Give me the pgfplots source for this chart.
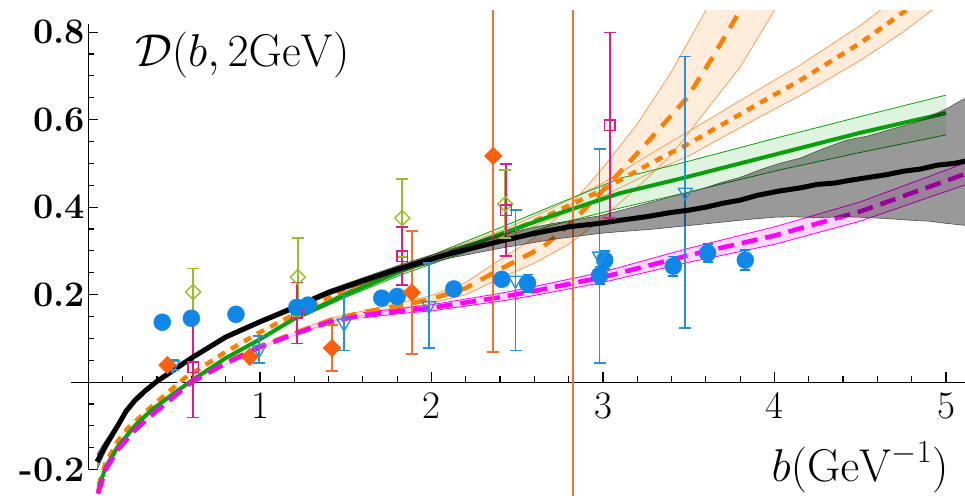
\RequirePackage{fix-cm}
\documentclass[border=0pt]{standalone}
\usepackage{pgfplots}
\pgfplotsset{compat=1.18}
\definecolor{cblue}{RGB}{15,135,232}
\definecolor{tblue}{RGB}{40,145,220}
\definecolor{dorange}{RGB}{255,95,15}
\definecolor{eorange}{RGB}{240,112,45}
\definecolor{dgreen}{RGB}{150,190,40}
\definecolor{sqpink}{RGB}{220,30,140}
\definecolor{mag}{RGB}{255,0,255}
\definecolor{lgr}{RGB}{10,160,10}
\definecolor{lor}{RGB}{255,128,0}
\definecolor{bandor}{RGB}{255,236,218}
\definecolor{bandgr}{RGB}{222,244,222}
\definecolor{bandmg}{RGB}{255,215,255}
\definecolor{edgeor}{RGB}{245,160,90}
\pgfplotsset{
  ebar/.style={line width=1.7pt, unbounded coords=jump},
  ecap/.style={only marks, mark=-, mark size=6pt, mark options={line width=1.7pt}},
}
\begin{document}
\begin{tikzpicture}
% ---------- axes ----------
\begin{axis}[
  x=171.5pt, y=437.5pt, anchor=origin, at={(0pt,0pt)},
  xmin=-0.1, xmax=5.12, ymin=-0.2, ymax=0.818,
  clip=false,
  axis lines=middle,
  every inner x axis line/.append style={-},
  every inner y axis line/.append style={-},
  axis line style={line width=1.2pt, black, -},
  xtick={1,2,3,4,5}, xticklabels={1,2,3,4,5},
  minor xtick={0.2,0.4,0.6,0.8,1.2,1.4,1.6,1.8,2.2,2.4,2.6,2.8,3.2,3.4,3.6,3.8,4.2,4.4,4.6,4.8},
  ytick={-0.2,0.2,0.4,0.6,0.8}, yticklabels={-0.2,0.2,0.4,0.6,0.8},
  minor ytick={-0.15,-0.1,-0.05,0.05,0.1,0.15,0.25,0.3,0.35,0.45,0.5,0.55,0.65,0.7,0.75},
  tick align=inside,
  major tick length=10pt, minor tick length=6pt,
  every tick/.style={black, line width=1.2pt},
  xticklabel style={font=\fontsize{39}{41}\selectfont, yshift=-7pt},
  yticklabel style={font=\fontsize{36}{38}\selectfont\bfseries},
]
\node[anchor=base west, inner sep=0pt, font=\fontsize{46}{48}\selectfont] at (axis cs:0.271,0.722) {$\mathcal{D}(b,2\mathrm{GeV})$};
\node[anchor=base east, inner sep=0pt, font=\fontsize{46}{48}\selectfont] at (axis cs:5.015,-0.226) {$b(\mathrm{GeV}^{-1})$};
\end{axis}
% ---------- data ----------
\begin{axis}[
  x=171.5pt, y=437.5pt, anchor=origin, at={(0pt,0pt)},
  xmin=-0.1, xmax=5.12, ymin=-0.26, ymax=0.85,
  hide axis, clip=true,
]
\coordinate (BL) at (axis cs:-0.516,-0.258);
\coordinate (TR) at (axis cs:5.111,0.8735);
% bands
\addplot[fill=bandor, draw=none] coordinates {
 (1.2,0.116) (1.41,0.146) (1.8,0.18) (2.0,0.198) (2.2,0.228) (2.4,0.28) (2.6,0.33) (2.8,0.40) (3.0,0.49) (3.2,0.59) (3.4,0.71) (3.6,0.85) (3.7,0.92)
 (4.1,0.92) (4.0,0.85) (3.8,0.72) (3.6,0.62) (3.4,0.52) (3.2,0.445) (3.0,0.375) (2.8,0.315) (2.6,0.272) (2.4,0.237) (2.2,0.2) (2.0,0.18) (1.8,0.166) (1.41,0.138) (1.2,0.106)};
\addplot[fill=bandor, draw=none] coordinates {
 (0.06,-0.231) (0.10,-0.181) (0.17,-0.131) (0.23,-0.101) (0.37,-0.051) (0.56,0.013) (0.80,0.073) (1.00,0.118) (1.15,0.149) (1.50,0.216) (1.80,0.262) (2.10,0.304) (2.40,0.345) (2.70,0.397) (3.00,0.455) (3.30,0.527) (3.50,0.573) (3.70,0.620) (3.90,0.667) (4.15,0.725) (4.50,0.815) (4.75,0.890) (4.85,0.92)
 (4.95,0.86) (4.85,0.83) (4.75,0.800) (4.50,0.735) (4.15,0.655) (3.90,0.603) (3.70,0.560) (3.50,0.517) (3.30,0.483) (3.00,0.425) (2.70,0.373) (2.40,0.325) (2.10,0.288) (1.80,0.250) (1.50,0.208) (1.15,0.141) (1.00,0.110) (0.80,0.065) (0.56,0.005) (0.37,-0.059) (0.23,-0.109) (0.17,-0.139) (0.10,-0.189) (0.06,-0.239)};
\addplot[fill=bandgr, draw=none] coordinates {
 (0.06,-0.237) (0.10,-0.192) (0.17,-0.145) (0.27,-0.097) (0.37,-0.060) (0.50,-0.022) (0.60,0.006) (0.80,0.058) (1.00,0.101) (1.20,0.149) (1.50,0.206) (1.80,0.258) (2.10,0.306) (2.40,0.353) (2.70,0.402) (3.10,0.466) (3.45,0.500) (4.03,0.560) (4.50,0.607) (5.00,0.656)
 (5.00,0.565) (4.50,0.525) (4.03,0.485) (3.45,0.430) (3.10,0.398) (2.70,0.358) (2.40,0.323) (2.10,0.284) (1.80,0.242) (1.50,0.194) (1.20,0.141) (1.00,0.095) (0.80,0.052) (0.60,0.000) (0.50,-0.028) (0.37,-0.066) (0.27,-0.103) (0.17,-0.151) (0.10,-0.198) (0.06,-0.243)};
\addplot[fill=bandmg, draw=none] coordinates {
 (0.055,-0.251) (0.10,-0.196) (0.17,-0.151) (0.27,-0.106) (0.37,-0.071) (0.6,0.004) (0.8,0.048) (1.0,0.085) (1.2,0.115) (1.4,0.143) (1.6,0.159) (1.8,0.168) (2.0,0.177) (2.4,0.203) (2.57,0.216) (3.0,0.252) (3.5,0.306) (4.0,0.355) (4.5,0.412) (5.12,0.502)
 (5.12,0.452) (4.5,0.368) (4.0,0.315) (3.5,0.274) (3.0,0.228) (2.57,0.196) (2.4,0.185) (2.0,0.163) (1.8,0.156) (1.6,0.147) (1.4,0.131) (1.2,0.105) (1.0,0.075) (0.8,0.038) (0.6,-0.004) (0.37,-0.079) (0.27,-0.114) (0.17,-0.159) (0.10,-0.204) (0.055,-0.259)};
% band edges
\addplot[edgeor, line width=0.8pt] coordinates {(1.2,0.116) (1.41,0.146) (1.8,0.18) (2.0,0.198) (2.2,0.228) (2.4,0.28) (2.6,0.33) (2.8,0.40) (3.0,0.49) (3.2,0.59) (3.4,0.71) (3.6,0.85) (3.7,0.92)};
\addplot[edgeor, line width=0.8pt] coordinates {(1.2,0.106) (1.41,0.138) (1.8,0.166) (2.0,0.18) (2.2,0.2) (2.4,0.237) (2.6,0.272) (2.8,0.315) (3.0,0.375) (3.2,0.445) (3.4,0.52) (3.6,0.62) (3.8,0.72) (4.0,0.85) (4.1,0.92)};
\addplot[edgeor, line width=0.8pt] coordinates {(1.50,0.216) (1.80,0.262) (2.10,0.304) (2.40,0.345) (2.70,0.397) (3.00,0.455) (3.30,0.527) (3.50,0.573) (3.70,0.620) (3.90,0.667) (4.15,0.725) (4.50,0.815) (4.75,0.890) (4.85,0.92)};
\addplot[edgeor, line width=0.8pt] coordinates {(1.50,0.208) (1.80,0.250) (2.10,0.288) (2.40,0.325) (2.70,0.373) (3.00,0.425) (3.30,0.483) (3.50,0.517) (3.70,0.560) (3.90,0.603) (4.15,0.655) (4.50,0.735) (4.75,0.800) (4.85,0.83) (4.95,0.86)};
\addplot[lgr, line width=0.8pt] coordinates {(1.20,0.149) (1.50,0.206) (1.80,0.258) (2.10,0.306) (2.40,0.353) (2.70,0.402) (3.10,0.466) (3.45,0.500) (4.03,0.560) (4.50,0.607) (5.00,0.656)};
\addplot[lgr, line width=0.8pt] coordinates {(1.20,0.141) (1.50,0.194) (1.80,0.242) (2.10,0.284) (2.40,0.323) (2.70,0.358) (3.10,0.398) (3.45,0.430) (4.03,0.485) (4.50,0.525) (5.00,0.565)};
\addplot[mag, line width=0.8pt] coordinates {(1.6,0.159) (1.8,0.168) (2.0,0.177) (2.4,0.203) (2.57,0.216) (3.0,0.252) (3.5,0.306) (4.0,0.355) (4.5,0.412) (5.12,0.502)};
\addplot[mag, line width=0.8pt] coordinates {(1.6,0.147) (1.8,0.156) (2.0,0.163) (2.4,0.185) (2.57,0.196) (3.0,0.228) (3.5,0.274) (4.0,0.315) (4.5,0.368) (5.12,0.452)};
% central lines
\addplot[lor, line width=4.5pt, dash pattern=on 14pt off 10pt] coordinates {
 (0.055,-0.250) (0.10,-0.198) (0.17,-0.152) (0.27,-0.108) (0.37,-0.073) (0.60,0.002) (0.80,0.045) (1.00,0.082) (1.20,0.112) (1.41,0.142) (1.60,0.160) (1.80,0.173) (2.00,0.190) (2.20,0.215) (2.40,0.258) (2.65,0.309) (2.79,0.355) (2.90,0.398) (3.04,0.455) (3.27,0.553) (3.49,0.650) (3.64,0.743) (3.80,0.850) (3.85,0.89)};
\addplot[lor, line width=4.5pt, dash pattern=on 8pt off 7pt] coordinates {
 (0.06,-0.235) (0.10,-0.185) (0.17,-0.135) (0.23,-0.105) (0.37,-0.055) (0.56,0.009) (0.80,0.069) (1.00,0.114) (1.15,0.145) (1.50,0.212) (1.80,0.256) (2.10,0.296) (2.40,0.335) (2.70,0.385) (3.00,0.440) (3.30,0.505) (3.50,0.545) (3.70,0.590) (3.90,0.635) (4.15,0.690) (4.50,0.775) (4.75,0.845) (4.85,0.875)};
\addplot[lgr, line width=4pt] coordinates {
 (0.06,-0.240) (0.10,-0.195) (0.17,-0.148) (0.27,-0.100) (0.37,-0.063) (0.50,-0.025) (0.60,0.003) (0.80,0.055) (1.00,0.098) (1.20,0.145) (1.50,0.200) (1.80,0.250) (2.10,0.295) (2.40,0.338) (2.70,0.380) (3.10,0.432) (3.45,0.465) (4.03,0.523) (4.50,0.570) (5.00,0.615)};
\addplot[mag, line width=4.5pt, dash pattern=on 16pt off 8pt] coordinates {
 (0.055,-0.255) (0.10,-0.200) (0.17,-0.155) (0.27,-0.110) (0.37,-0.075) (0.60,0.000) (0.80,0.043) (1.00,0.080) (1.20,0.110) (1.40,0.137) (1.60,0.153) (1.80,0.162) (2.00,0.170) (2.40,0.194) (2.57,0.206) (3.00,0.240) (3.50,0.290) (4.00,0.335) (4.50,0.390) (5.12,0.477)};
% vertical line
\addplot[eorange, line width=1.7pt] coordinates {(2.825,-0.3) (2.825,0.9)};
% ---- error bars ----
\addplot[cblue, ebar] coordinates {(2.56,0.206) (2.56,0.246) (2.56,nan) (2.98,0.224) (2.98,0.264) (2.98,nan) (3.01,0.259) (3.01,0.299) (3.01,nan) (3.41,0.243) (3.41,0.287) (3.41,nan) (3.61,0.275) (3.61,0.315) (3.61,nan) (3.83,0.256) (3.83,0.302)};
\addplot[cblue, ecap, mark size=5pt] coordinates {(2.56,0.206) (2.56,0.246) (2.98,0.224) (2.98,0.264) (3.01,0.259) (3.01,0.299) (3.41,0.243) (3.41,0.287) (3.61,0.275) (3.61,0.315) (3.83,0.256) (3.83,0.302)};
\addplot[tblue, ebar] coordinates {(0.49,0.027) (0.49,0.051) (0.49,nan) (0.995,0.044) (0.995,0.106) (0.995,nan) (1.49,0.072) (1.49,0.198) (1.49,nan) (1.985,0.078) (1.985,0.272) (1.985,nan) (2.49,0.072) (2.49,0.394) (2.49,nan) (2.98,0.043) (2.98,0.533) (2.98,nan) (3.48,0.124) (3.48,0.744)};
\addplot[tblue, ecap] coordinates {(0.49,0.027) (0.49,0.051) (0.995,0.044) (0.995,0.106) (1.49,0.072) (1.49,0.198) (1.985,0.078) (1.985,0.272) (2.49,0.072) (2.49,0.394) (2.98,0.043) (2.98,0.533) (3.48,0.124) (3.48,0.744)};
\addplot[eorange, ebar] coordinates {(0.46,0.031) (0.46,0.047) (0.46,nan) (0.94,0.048) (0.94,0.068) (0.94,nan) (1.42,0.026) (1.42,0.130) (1.42,nan) (1.885,0.065) (1.885,0.345) (1.885,nan) (2.36,0.069) (2.36,0.965)};
\addplot[eorange, ecap] coordinates {(1.42,0.026) (1.42,0.130) (1.885,0.065) (1.885,0.345) (2.36,0.069) (2.36,0.965)};
\addplot[dgreen, ebar] coordinates {(0.61,0.152) (0.61,0.260) (0.61,nan) (1.22,0.151) (1.22,0.329) (1.22,nan) (1.83,0.286) (1.83,0.464) (1.83,nan) (2.43,0.329) (2.43,0.485)};
\addplot[dgreen, ecap] coordinates {(0.61,0.152) (0.61,0.260) (1.22,0.151) (1.22,0.329) (1.83,0.286) (1.83,0.464) (2.43,0.329) (2.43,0.485)};
\addplot[sqpink, ebar] coordinates {(0.61,-0.081) (0.61,0.149) (0.61,nan) (1.215,0.088) (1.215,0.228) (1.215,nan) (1.83,0.222) (1.83,0.354) (1.83,nan) (2.435,0.288) (2.435,0.498) (2.435,nan) (3.04,0.375) (3.04,0.799)};
\addplot[sqpink, ecap] coordinates {(0.61,-0.081) (0.61,0.149) (1.215,0.088) (1.215,0.228) (1.83,0.222) (1.83,0.354) (2.435,0.288) (2.435,0.498) (3.04,0.375) (3.04,0.799)};
% ---- markers ----
\addplot[only marks, mark=*, mark size=8.5pt, color=cblue] coordinates {
 (0.43,0.137) (0.60,0.146) (0.86,0.155) (1.215,0.171) (1.28,0.176)
 (1.71,0.192) (1.80,0.196) (2.13,0.213) (2.41,0.235) (2.56,0.226)
 (2.98,0.244) (3.01,0.279) (3.41,0.265) (3.61,0.295) (3.83,0.279)};
\addplot[only marks, mark=triangle, mark size=8pt, color=tblue, mark options={rotate=180, line width=1.4pt}] coordinates {
 (0.49,0.039) (0.995,0.075) (1.49,0.135) (1.985,0.175) (2.49,0.233) (2.98,0.288) (3.48,0.434)};
\addplot[only marks, mark=square*, mark size=6.2pt, color=dorange, mark options={rotate=45}] coordinates {
 (0.46,0.039) (0.94,0.058) (1.42,0.078) (1.885,0.205) (2.36,0.517)};
\addplot[only marks, mark=square, mark size=5.3pt, color=dgreen, mark options={rotate=45, line width=1.4pt}] coordinates {
 (0.61,0.206) (1.22,0.24) (1.83,0.375) (2.43,0.407)};
\addplot[only marks, mark=square, mark size=5.3pt, color=sqpink, mark options={line width=1.4pt}] coordinates {
 (0.61,0.034) (1.215,0.158) (1.83,0.288) (2.435,0.393) (3.04,0.587)};
% grey band
\addplot[fill=black, fill opacity=0.4, draw=black!70, line width=0.6pt] coordinates {
 (0.05,-0.164) (0.10,-0.133) (0.17,-0.092) (0.22,-0.059) (0.27,-0.036) (0.33,-0.014) (0.40,0.007) (0.60,0.060) (0.80,0.108) (1.00,0.143) (1.40,0.211) (1.80,0.266) (2.10,0.303) (2.40,0.338) (2.70,0.362) (2.98,0.380) (3.10,0.392) (3.25,0.408) (3.40,0.424) (3.55,0.438) (3.68,0.455) (3.80,0.468) (3.92,0.486) (4.03,0.500) (4.15,0.512) (4.28,0.533) (4.42,0.553) (4.55,0.563) (4.68,0.578) (4.81,0.592) (4.92,0.610) (5.02,0.628) (5.07,0.640) (5.12,0.650)
 (5.12,0.358) (5.0,0.363) (4.9,0.368) (4.8,0.370) (4.65,0.374) (4.5,0.377) (4.4,0.378) (4.25,0.376) (4.1,0.378) (4.0,0.377) (3.85,0.372) (3.7,0.366) (3.5,0.358) (3.3,0.350) (3.1,0.344) (2.98,0.340) (2.7,0.326) (2.4,0.306) (2.1,0.283) (1.8,0.250) (1.4,0.199) (1.0,0.133) (0.80,0.098) (0.60,0.050) (0.40,-0.003) (0.33,-0.026) (0.27,-0.048) (0.22,-0.073) (0.17,-0.108) (0.10,-0.157) (0.05,-0.200)};
% black line
\addplot[black, line width=5pt, line join=round] coordinates {
 (0.05,-0.182) (0.10,-0.145) (0.17,-0.100) (0.22,-0.066) (0.27,-0.042) (0.33,-0.020) (0.40,0.002) (0.46,0.018) (0.60,0.055) (0.80,0.103) (1.00,0.138) (1.15,0.162) (1.40,0.205) (1.60,0.232) (1.80,0.258) (2.10,0.293) (2.40,0.322) (2.60,0.340) (2.80,0.355) (2.98,0.363) (3.10,0.370) (3.25,0.378) (3.40,0.388) (3.50,0.393) (3.60,0.400) (3.70,0.409) (3.80,0.416) (3.90,0.427) (4.03,0.437) (4.15,0.444) (4.25,0.452) (4.35,0.455) (4.45,0.462) (4.55,0.468) (4.65,0.474) (4.75,0.482) (4.85,0.487) (4.95,0.496) (5.05,0.500) (5.12,0.506)};
\end{axis}
\pgfresetboundingbox
\useasboundingbox (BL) rectangle (TR);
\end{tikzpicture}
\end{document}
